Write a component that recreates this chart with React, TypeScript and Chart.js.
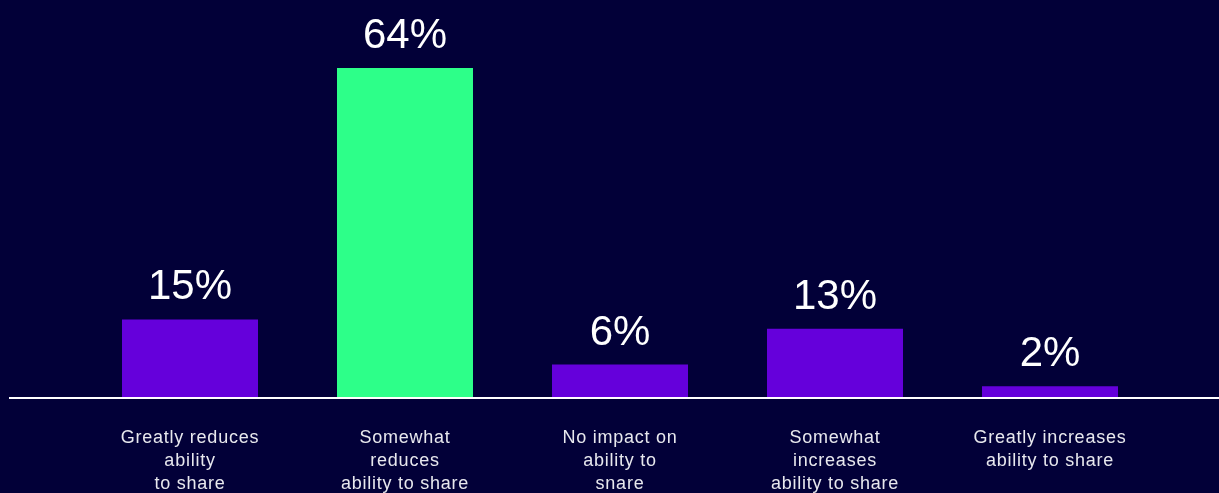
import React, { useEffect, useRef } from "react";
import { Chart, registerables } from "chart.js";

Chart.register(...registerables);

const categories: string[][] = [
  ["Greatly reduces", "ability", "to share"],
  ["Somewhat", "reduces", "ability to share"],
  ["No impact on", "ability to", "snare"],
  ["Somewhat", "increases", "ability to share"],
  ["Greatly increases", "ability to share"],
];
const values: number[] = [15.1, 64, 6.3, 13.3, 2.1];
const valueLabels: string[] = ["15%", "64%", "6%", "13%", "2%"];
const barColors: string[] = ["#6500DB", "#2DFF89", "#6500DB", "#6500DB", "#6500DB"];

const BG = "#020038";
const FONT = "'Liberation Sans', Arial, Helvetica, sans-serif";

export default function App() {
  const ref = useRef<HTMLCanvasElement | null>(null);

  useEffect(() => {
    const canvas = ref.current;
    if (!canvas) return;

    const decor = {
      id: "decor",
      beforeDraw(chart: any) {
        const ctx = chart.ctx;
        ctx.save();
        ctx.fillStyle = BG;
        ctx.fillRect(0, 0, chart.width, chart.height);
        ctx.restore();
        ctx.letterSpacing = "0.75px";
      },
      afterDatasetsDraw(chart: any) {
        const ctx = chart.ctx;
        const yScale = chart.scales.y;
        const zeroY = yScale.getPixelForValue(0);
        ctx.save();
        ctx.letterSpacing = "0px";
        ctx.fillStyle = "#ffffff";
        ctx.fillRect(9, zeroY, chart.width - 9, 2);
        const meta = chart.getDatasetMeta(0);
        ctx.font = `42px ${FONT}`;
        ctx.textAlign = "center";
        ctx.textBaseline = "alphabetic";
        meta.data.forEach((bar: any, i: number) => {
          ctx.fillText(valueLabels[i], bar.x, bar.y - 20);
        });
        ctx.restore();
      },
    };

    const chart = new Chart(canvas, {
      type: "bar",
      data: {
        labels: categories,
        datasets: [
          {
            data: values,
            backgroundColor: barColors,
            borderWidth: 0,
            categoryPercentage: 1,
            barPercentage: 136 / 215,
          },
        ],
      },
      options: {
        animation: false,
        responsive: false,
        maintainAspectRatio: false,
        devicePixelRatio: 1,
        layout: { padding: { left: 82.5, right: 61.5, top: 37.16, bottom: 0 } },
        plugins: {
          legend: { display: false },
          tooltip: { enabled: false },
          title: { display: false },
        },
        scales: {
          x: {
            grid: { display: false, drawTicks: false },
            border: { display: false },
            ticks: {
              color: "#e8e8ee",
              font: { family: FONT, size: 18, lineHeight: 23 / 18 },
              padding: 30,
              maxRotation: 0,
              autoSkip: false,
            },
            afterFit(scale: any) {
              scale.height = 96;
            },
          },
          y: {
            display: false,
            min: 0,
            max: 70,
          },
        },
      },
      plugins: [decor],
    });

    return () => chart.destroy();
  }, []);

  return (
    <div style={{ position: "absolute", left: 0, top: 0, width: 1219, height: 493, background: BG }}>
      <canvas ref={ref} width={1219} height={493} style={{ display: "block", width: 1219, height: 493 }} />
    </div>
  );
}
